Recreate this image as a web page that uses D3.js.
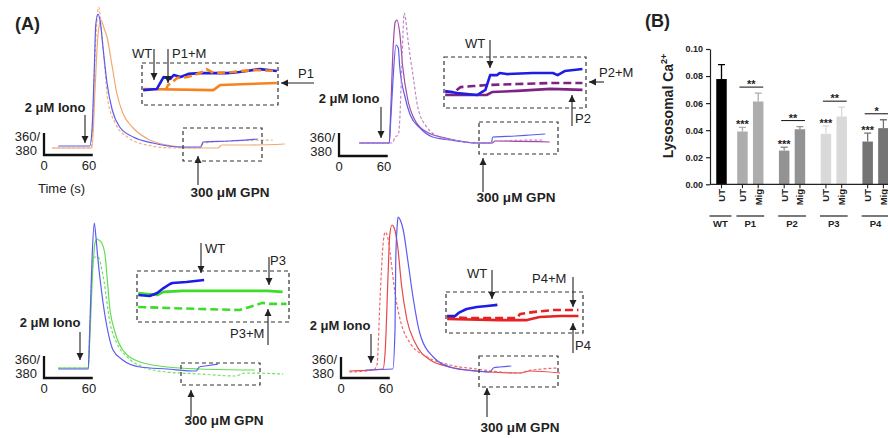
<!DOCTYPE html>
<html>
<head>
<meta charset="utf-8">
<script src="https://cdn.jsdelivr.net/npm/d3@7"></script>
<style>
  body { margin: 0; background: #fff; }
  text { font-family: "Liberation Sans", Arial, Helvetica, sans-serif; fill: #222; }
</style>
</head>
<body>
<svg id="fig" width="888" height="438"></svg>
<script>
// ---- (A) Fura-2 360/380 traces: [time (s), ratio] ----
// top-left, WT vs P1
const tlWT  = [[19,0.61],[61,0.61],[64,0.77],[67,1.37],[69,1.82],[72,1.93],[75,1.85],[79,1.57],[84,1.24],[91,0.97],[101,0.80],[119,0.70],[145,0.64],[181,0.60],[209,0.60],[212,0.65],[248,0.66],[285,0.68]];
const tlP1  = [[11,0.59],[64,0.59],[68,1.17],[72,1.72],[76,1.87],[80,1.79],[84,1.70],[91,1.40],[97,1.14],[105,0.94],[119,0.79],[141,0.67],[172,0.61],[195,0.59],[232,0.59],[237,0.62],[275,0.62],[321,0.63]];
const tlP1M = [[11,0.59],[63,0.59],[65,0.87],[69,1.67],[73,2.00],[77,1.74],[81,1.40],[85,1.07],[95,0.84],[111,0.70],[137,0.62],[172,0.59],[208,0.59],[213,0.64],[248,0.66],[305,0.67]];
// top-right, WT vs P2
const trWT  = [[27,0.60],[67,0.60],[69,0.83],[72,1.23],[76,1.58],[79,1.55],[81,1.36],[88,1.06],[95,0.88],[108,0.75],[125,0.66],[148,0.63],[184,0.60],[203,0.60],[205,0.66],[235,0.67],[255,0.68],[275,0.69]];
const trP2  = [[27,0.60],[67,0.60],[69,0.93],[72,1.53],[75,1.81],[77,1.83],[81,1.70],[85,1.36],[91,1.06],[99,0.86],[117,0.71],[148,0.64],[184,0.60],[204,0.60],[208,0.62],[281,0.61]];
const trP2M = [[27,0.60],[71,0.60],[75,0.66],[79,0.68],[81,0.83],[84,1.43],[87,1.90],[89,1.83],[92,1.63],[99,1.26],[105,0.96],[117,0.76],[135,0.66],[161,0.62],[184,0.60],[201,0.60],[207,0.62],[272,0.63]];
// bottom-left, WT vs P3
const blWT  = [[19,0.59],[59,0.59],[61,0.98],[64,1.68],[67,2.05],[69,1.93],[72,1.68],[77,1.35],[84,1.01],[92,0.78],[105,0.68],[128,0.61],[164,0.59],[203,0.57],[207,0.61],[215,0.62],[232,0.64]];
const blP3  = [[19,0.60],[59,0.60],[61,0.88],[65,1.58],[68,1.85],[71,1.89],[73,1.88],[77,1.85],[81,1.75],[88,1.18],[95,0.95],[105,0.78],[128,0.66],[164,0.61],[208,0.59],[281,0.58]];
const blP3M = [[19,0.60],[59,0.60],[61,0.98],[65,1.66],[68,1.71],[72,1.71],[79,1.51],[88,1.05],[97,0.85],[111,0.71],[132,0.61],[164,0.56],[208,0.54],[255,0.52],[268,0.55],[319,0.54]];
// bottom-right, WT vs P4
const brWT  = [[33,0.61],[69,0.62],[72,1.01],[73,1.71],[75,2.06],[76,2.14],[79,2.11],[83,2.01],[89,1.71],[96,1.34],[105,0.98],[123,0.74],[149,0.63],[181,0.60],[199,0.59],[203,0.63],[212,0.64],[227,0.65]];
const brP4  = [[11,0.60],[56,0.62],[59,0.81],[63,1.61],[65,1.96],[68,2.06],[71,2.03],[75,1.88],[81,1.44],[88,1.11],[99,0.88],[119,0.71],[145,0.64],[181,0.60],[239,0.58],[252,0.60],[292,0.58]];
const brP4M = [[11,0.59],[43,0.61],[48,0.66],[52,1.31],[56,1.86],[59,1.99],[63,1.91],[65,1.81],[72,1.38],[79,1.11],[92,0.88],[115,0.74],[145,0.66],[181,0.62],[212,0.59],[239,0.58],[248,0.60],[288,0.63]];

// ---- insets (GPN window, magnified): [time (s), delta ratio] ----
const inTlWT  = [[1,0.071],[13,0.076],[19,0.133],[25,0.124],[28,0.143],[34,0.133],[41,0.148],[51,0.152],[75,0.152],[86,0.157],[104,0.171],[119,0.162]];
const inTlP1  = [[1,0.076],[63,0.071],[69,0.095],[119,0.105]];
const inTlP1M = [[21,0.071],[23,0.095],[26,0.105],[31,0.129],[40,0.133],[51,0.152],[57,0.171],[63,0.152],[80,0.157],[98,0.167],[119,0.162]];
const inTrWT  = [[1,0.067],[11,0.059],[28,0.051],[35,0.071],[39,0.129],[45,0.129],[47,0.137],[53,0.133],[75,0.137],[92,0.137],[96,0.129],[102,0.145],[117,0.153]];
const inTrP2  = [[1,0.051],[36,0.051],[41,0.063],[62,0.067],[90,0.075],[117,0.071]];
const inTrP2M = [[1,0.063],[9,0.063],[14,0.082],[25,0.086],[36,0.090],[62,0.094],[90,0.098],[117,0.098]];
const inBlWT  = [[1,0.106],[10,0.102],[16,0.114],[21,0.133],[26,0.149],[28,0.153],[39,0.157],[53,0.165]];
const inBlP3  = [[1,0.114],[8,0.110],[16,0.106],[21,0.118],[36,0.122],[76,0.122],[103,0.122],[115,0.118]];
const inBlP3M = [[1,0.059],[24,0.055],[50,0.051],[81,0.047],[89,0.059],[99,0.075],[105,0.071],[118,0.071]];
const inBrWT  = [[1,0.083],[8,0.083],[11,0.098],[18,0.117],[27,0.127],[36,0.132],[45,0.137]];
const inBrP4  = [[1,0.068],[47,0.063],[71,0.063],[82,0.078],[100,0.083],[116,0.083]];
const inBrP4M = [[1,0.078],[18,0.073],[62,0.073],[65,0.093],[76,0.102],[94,0.112],[116,0.112]];

// ---- (B) lysosomal Ca2+ ----
const groups   = ["WT", "P1", "P2", "P3", "P4"];
const utMean   = [0.0778, 0.0390, 0.0249, 0.0373, 0.0316];
const utErr    = [0.0106, 0.0030, 0.0025, 0.0059, 0.0062];
const migMean  = [null, 0.0612, 0.0407, 0.0501, 0.0415];
const migErr   = [null, 0.0062, 0.0020, 0.0069, 0.0062];
const sigVsWT  = ["", "***", "***", "***", "***"];
const sigMig   = ["", "**", "**", "**", "*"];
const yTicks   = [0, 0.02, 0.04, 0.06, 0.08, 0.10];

const svg = d3.select("#fig");
svg.append("rect").attr("width", 888).attr("height", 438).attr("fill", "#fff");

var defs = svg.append("defs");
defs.append("marker")
  .attr("id", "ah").attr("viewBox", "0 0 10 10")
  .attr("refX", 10).attr("refY", 5)
  .attr("markerWidth", 7).attr("markerHeight", 8)
  .attr("markerUnits", "userSpaceOnUse").attr("orient", "auto")
  .append("path").attr("d", "M0,0L10,5L0,10z").attr("fill", "#222");

var BLUE = "#5c5cf0", BLUE_IN = "#1d1de6";

var panels = [
  { x0: 44, yb: 147, barTop: 133, barBottom: 155, timeLabel: true,
    traces: [{d: tlP1, c: "#f0a870"}, {d: tlP1M, c: "#f0b080", dash: true}, {d: tlWT, c: BLUE}],
    inset: { box: [142, 63, 278, 105],
      traces: [{d: inTlP1, c: "#f5841f"}, {d: inTlWT, c: BLUE_IN}, {d: inTlP1M, c: "#f5841f", dash: true}] },
    gpnBox: [183, 128, 262, 161],
    iono: {x: 55, y: 112, ax: 85, a0: 115, a1: 143},
    gpn: {x: 230, y: 197, ax: 198, a0: 185, a1: 156},
    labels: [{t: "WT", x: 132, y: 58}, {t: "P1+M", x: 172, y: 58}, {t: "P1", x: 298, y: 78}],
    arrows: [[154, 49, 154, 80], [168, 49, 168, 83], [314, 83, 281, 83]] },
  { x0: 339, yb: 143, barTop: 133, barBottom: 156,
    traces: [{d: trP2, c: "#a04aa6"}, {d: trWT, c: BLUE}, {d: trP2M, c: "#c585cb", dash: true}],
    inset: { box: [444, 57, 586, 108],
      traces: [{d: inTrP2, c: "#7d2384"}, {d: inTrP2M, c: "#7d2384", dash: true}, {d: inTrWT, c: BLUE_IN}] },
    gpnBox: [479, 122, 558, 154],
    iono: {x: 349, y: 103, ax: 381, a0: 107, a1: 138},
    gpn: {x: 516, y: 202, ax: 483, a0: 192, a1: 158},
    labels: [{t: "WT", x: 465, y: 48}, {t: "P2+M", x: 599, y: 77}, {t: "P2", x: 575, y: 123}],
    arrows: [[490, 40, 490, 68], [604, 82, 589, 82], [572, 126, 572, 95]] },
  { x0: 44, yb: 368, barTop: 356, barBottom: 378,
    traces: [{d: blP3, c: "#62dc52"}, {d: blP3M, c: "#72e064", dash: true}, {d: blWT, c: BLUE}],
    inset: { box: [137, 271, 289, 322],
      traces: [{d: inBlP3, c: "#3ddc2a"}, {d: inBlP3M, c: "#3ddc2a", dash: true}, {d: inBlWT, c: BLUE_IN}] },
    gpnBox: [181, 363, 260, 385],
    iono: {x: 50, y: 327, ax: 80, a0: 332, a1: 360},
    gpn: {x: 224, y: 425, ax: 191, a0: 417, a1: 390},
    labels: [{t: "WT", x: 205, y: 253}, {t: "P3", x: 270, y: 265}, {t: "P3+M", x: 230, y: 338}],
    arrows: [[201, 243, 201, 273], [269, 257, 269, 285], [268, 345, 268, 309]] },
  { x0: 341, yb: 371, barTop: 357, barBottom: 378,
    traces: [{d: brP4, c: "#e84848"}, {d: brP4M, c: "#ec6a6a", dash: true}, {d: brWT, c: BLUE}],
    inset: { box: [446, 292, 583, 333],
      traces: [{d: inBrP4, c: "#e62222"}, {d: inBrP4M, c: "#e62222", dash: true}, {d: inBrWT, c: BLUE_IN}] },
    gpnBox: [479, 356, 558, 387],
    iono: {x: 340, y: 330, ax: 371, a0: 334, a1: 363},
    gpn: {x: 520, y: 432, ax: 487, a0: 417, a1: 388},
    labels: [{t: "WT", x: 467, y: 278}, {t: "P4+M", x: 532, y: 283}, {t: "P4", x: 575, y: 350}],
    arrows: [[492, 270, 492, 299], [573, 277, 573, 307], [573, 353, 573, 323]] }
];

var PX_PER_S = 0.75, PX_PER_UNIT = 100;

function dashedBox(g, b){
  g.append("rect").attr("x", b[0]).attr("y", b[1])
    .attr("width", b[2] - b[0]).attr("height", b[3] - b[1])
    .attr("fill", "none").attr("stroke", "#333").attr("stroke-width", 1.2)
    .attr("stroke-dasharray", "4,3");
}

function arrow(g, a){
  g.append("line").attr("x1", a[0]).attr("y1", a[1]).attr("x2", a[2]).attr("y2", a[3])
    .attr("stroke", "#222").attr("stroke-width", 1.1).attr("marker-end", "url(#ah)");
}

function drawPanel(p){
  var g = svg.append("g");
  var x = d3.scaleLinear().domain([0, 100]).range([p.x0, p.x0 + 100 * PX_PER_S]);
  var y = d3.scaleLinear().domain([0.6, 1.6]).range([p.yb, p.yb - PX_PER_UNIT]);
  var line = d3.line().x(d => x(d[0])).y(d => y(d[1])).curve(d3.curveMonotoneX);

  p.traces.forEach(tr => {
    g.append("path").attr("d", line(tr.d)).attr("fill", "none")
      .attr("stroke", tr.c).attr("stroke-width", 1.2)
      .attr("stroke-dasharray", tr.dash ? "3,2" : null);
  });

  // scale bar
  g.append("path")
    .attr("d", "M" + x(0) + "," + p.barTop + "V" + p.barBottom + "H" + x(65))
    .attr("fill", "none").attr("stroke", "#111").attr("stroke-width", 2.3);
  g.append("text").attr("x", x(0) - 4).attr("y", p.barBottom - 14).attr("text-anchor", "end")
    .attr("font-size", 13).text("360/");
  g.append("text").attr("x", x(0) - 7).attr("y", p.barBottom).attr("text-anchor", "end")
    .attr("font-size", 13).text("380");
  [0, 60].forEach(t => g.append("text").attr("x", x(t)).attr("y", p.barBottom + 15)
    .attr("text-anchor", "middle").attr("font-size", 13).text(t));
  if (p.timeLabel){
    g.append("text").attr("x", 38).attr("y", 193).attr("font-size", 13).text("Time (s)");
  }

  // stimulus labels
  g.append("text").attr("x", p.iono.x).attr("y", p.iono.y).attr("text-anchor", "middle")
    .attr("font-size", 13).attr("font-weight", "bold").text("2 μM Iono");
  arrow(g, [p.iono.ax, p.iono.a0, p.iono.ax, p.iono.a1]);
  g.append("text").attr("x", p.gpn.x).attr("y", p.gpn.y).attr("text-anchor", "middle")
    .attr("font-size", 13.5).attr("font-weight", "bold").text("300 μM GPN");
  arrow(g, [p.gpn.ax, p.gpn.a0, p.gpn.ax, p.gpn.a1]);

  dashedBox(g, p.gpnBox);

  // magnified inset
  var b = p.inset.box;
  var xi = d3.scaleLinear().domain([0, 120]).range([b[0], b[2]]);
  var yi = d3.scaleLinear().domain([0, 0.2]).range([b[3], b[1]]);
  var lineIn = d3.line().x(d => xi(d[0])).y(d => yi(d[1]));
  p.inset.traces.forEach(tr => {
    g.append("path").attr("d", lineIn(tr.d)).attr("fill", "none")
      .attr("stroke", tr.c).attr("stroke-width", 2.6).attr("stroke-linejoin", "round")
      .attr("stroke-dasharray", tr.dash ? "8,4" : null);
  });
  dashedBox(g, b);

  p.labels.forEach(l => g.append("text").attr("x", l.x).attr("y", l.y)
    .attr("font-size", 13).text(l.t));
  p.arrows.forEach(a => arrow(g, a));
}

panels.forEach(drawPanel);

svg.append("text").attr("x", 15).attr("y", 30).attr("font-size", 18)
  .attr("font-weight", "bold").text("(A)");

// ---- panel B ----
var gB = svg.append("g");
gB.append("text").attr("x", 645).attr("y", 27).attr("font-size", 18)
  .attr("font-weight", "bold").text("(B)");

var yB = d3.scaleLinear().domain([0, 0.10]).range([184.3, 49]);
var xB = d3.scaleLinear().domain([0, 1]).range([721.5, 737.25]);
var grays = ["#000000", "#adadad", "#939393", "#d9d9d9", "#747474"];
var barW = 10.5;

var bars = [], slot = 0;
groups.forEach((name, gi) => {
  if (gi === 1) slot += 0.33; else if (gi > 1) slot += 0.65;
  bars.push({g: gi, cond: "UT", mean: utMean[gi], err: utErr[gi], slot: slot++});
  if (migMean[gi] != null)
    bars.push({g: gi, cond: "Mig", mean: migMean[gi], err: migErr[gi], slot: slot++});
});

// error bars
bars.forEach(d => {
  var cx = xB(d.slot), top = yB(d.mean + d.err);
  gB.append("path").attr("d", "M" + cx + "," + yB(d.mean) + "V" + top + "M" + (cx - 3.5) + "," + top + "H" + (cx + 3.5))
    .attr("stroke", grays[d.g]).attr("stroke-width", 1.3).attr("fill", "none");
});
gB.selectAll(".bar").data(bars).enter().append("rect")
  .attr("x", d => xB(d.slot) - barW / 2).attr("y", d => yB(d.mean))
  .attr("width", barW).attr("height", d => yB(0) - yB(d.mean))
  .attr("fill", d => grays[d.g]);

// y axis
var yAxis = gB.append("g").attr("transform", "translate(710,0)")
  .call(d3.axisLeft(yB).tickValues(yTicks).tickFormat(d3.format(".2f")).tickSize(4).tickSizeOuter(0));
yAxis.selectAll("path, line").attr("stroke", "#222").attr("stroke-width", 1.2);
yAxis.selectAll("text").attr("font-size", 9).attr("font-weight", "bold").attr("fill", "#222")
  .style("font-family", '"Liberation Sans", Arial, sans-serif');

// x axis
gB.append("line").attr("x1", 710).attr("x2", 888).attr("y1", yB(0)).attr("y2", yB(0))
  .attr("stroke", "#222").attr("stroke-width", 1.2);
bars.forEach(d => {
  var cx = xB(d.slot);
  gB.append("line").attr("x1", cx).attr("x2", cx).attr("y1", yB(0)).attr("y2", yB(0) + 4)
    .attr("stroke", "#222").attr("stroke-width", 1.1);
  gB.append("text").attr("transform", "translate(" + (cx + 3.5) + ",189) rotate(-90)")
    .attr("text-anchor", "end").attr("font-size", 9.5).attr("font-weight", "bold").text(d.cond);
});

// group labels
groups.forEach((name, gi) => {
  var gb = bars.filter(d => d.g === gi);
  var x1 = xB(gb[0].slot), x2 = xB(gb[gb.length - 1].slot);
  var l = gb.length === 1 ? x1 - 12 : x1 - 6, r = gb.length === 1 ? x1 + 10 : x2 + 6;
  gB.append("line").attr("x1", l).attr("x2", r).attr("y1", 216).attr("y2", 216)
    .attr("stroke", "#222").attr("stroke-width", 1.2);
  gB.append("text").attr("x", (l + r) / 2).attr("y", 227).attr("text-anchor", "middle")
    .attr("font-size", 9.5).attr("font-weight", "bold").text(name);
});

// significance
groups.forEach((name, gi) => {
  var ut = bars.find(d => d.g === gi && d.cond === "UT");
  var mig = bars.find(d => d.g === gi && d.cond === "Mig");
  if (sigVsWT[gi]) {
    gB.append("text").attr("x", xB(ut.slot)).attr("y", yB(ut.mean + ut.err) + 1)
      .attr("text-anchor", "middle").attr("font-size", 11).attr("font-weight", "bold").text(sigVsWT[gi]);
  }
  if (mig && sigMig[gi]) {
    var ly = yB(mig.mean + mig.err) - 6;
    gB.append("line").attr("x1", xB(ut.slot) - 3).attr("x2", xB(mig.slot) + 5)
      .attr("y1", ly).attr("y2", ly).attr("stroke", "#222").attr("stroke-width", 1.1);
    gB.append("text").attr("x", (xB(ut.slot) + xB(mig.slot)) / 2 + 1).attr("y", ly + 1)
      .attr("text-anchor", "middle").attr("font-size", 11).attr("font-weight", "bold").text(sigMig[gi]);
  }
});

// y label
var yl = gB.append("text").attr("transform", "translate(673,106) rotate(-90)")
  .attr("text-anchor", "middle").attr("font-size", 14).attr("font-weight", "bold");
yl.append("tspan").text("Lysosomal Ca");
yl.append("tspan").attr("font-size", 9).attr("dy", -6).text("2+");
</script>
</body>
</html>
